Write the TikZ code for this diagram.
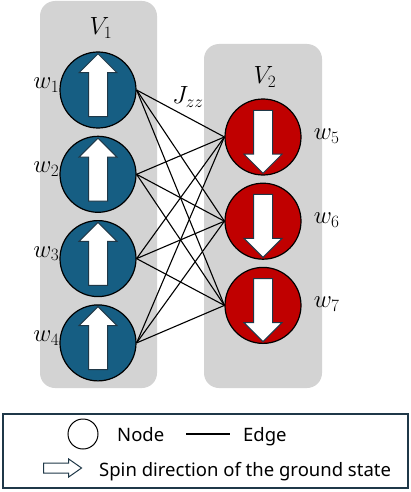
\documentclass[tikz,border=0pt]{standalone}
\usepackage{amsmath}
\usepackage{fontspec}
\setsansfont{Noto Sans}
\usepackage{tikz}
\usetikzlibrary{positioning,shapes.arrows}
\usepackage{xcolor}
\definecolor{SpinBlue}{RGB}{22,94,131}
\definecolor{SpinRed}{RGB}{192,0,0}
\definecolor{GroupGray}{RGB}{211,211,211}
\definecolor{ArrowLine}{RGB}{31,56,72}

\begin{document}
\begin{tikzpicture}[x=1pt, y=-1pt,
  spin/.style={draw, circle, line width=1.2pt, minimum size=76pt, inner sep=0pt},
  spinarrow/.style={shape=single arrow, draw=ArrowLine, fill=white, line width=1pt, inner sep=9pt, minimum height=63pt, single arrow head extend=9.5pt, single arrow tip angle=90},
  lbl/.style={inner sep=0pt, font=\fontsize{26}{30}\selectfont},
  legtext/.style={inner sep=0pt, anchor=base west, font=\sffamily\fontsize{18.5}{22}\selectfont}]
\useasboundingbox (0,0) rectangle (411,492);
% groups
\node[fill=GroupGray, rounded corners=15pt, minimum width=117pt, minimum height=387pt] (g1) at (98.5,194.5) {};
\node[fill=GroupGray, rounded corners=15pt, minimum width=118pt, minimum height=344pt] (g2) at (263,216) {};
\node[lbl] (v1) at (101,28) {$V_1$};
\node[lbl] (v2) at (265,77) {$V_2$};
% spins of V1
\node[spin, fill=SpinBlue] (w1) at (98,90) {};
\node[spin, fill=SpinBlue, below=7.1pt of w1] (w2) {};
\node[spin, fill=SpinBlue, below=7.1pt of w2] (w3) {};
\node[spin, fill=SpinBlue, below=7.1pt of w3] (w4) {};
% spins of V2
\node[spin, fill=SpinRed] (w5) at (263,137) {};
\node[spin, fill=SpinRed, below=7pt of w5] (w6) {};
\node[spin, fill=SpinRed, below=7pt of w6] (w7) {};
% edges
\foreach \a in {1,...,4}
  \foreach \b in {5,6,7}
    \draw[line width=1.1pt] (w\a.east) -- (w\b.west);
\node[lbl] (j) at (188,97) {$J_{zz}$};
% spin directions
\foreach \a in {1,...,4}
  \node[spinarrow, shape border rotate=90] (up\a) at (w\a) {};
\foreach \b in {5,6,7}
  \node[spinarrow, shape border rotate=270] (dn\b) at (w\b) {};
% labels
\foreach \a in {1,...,4}
  \node[lbl, anchor=east] (l\a) at ([yshift=5pt]w\a.west) {$w_{\a}$};
\foreach \b in {5,6,7}
  \node[lbl, anchor=west] (l\b) at ([xshift=12pt, yshift=1pt]w\b.east) {$w_{\b}$};
% legend
\node[draw=ArrowLine, line width=1.2pt, minimum width=405pt, minimum height=74pt] (leg) at (205.5,451) {};
\node[draw, circle, line width=1pt, minimum size=30pt, inner sep=0pt] (lc) at (83,434) {};
\node[legtext] (lnode) at (117,441) {Node};
\node[legtext] (ledge) at (243,441) {Edge};
\draw[line width=1.1pt] ([xshift=22pt, yshift=7pt]lnode.base east) -- ([xshift=-13pt, yshift=7pt]ledge.base west);
\node[shape=single arrow, draw=ArrowLine, fill=white, line width=1pt, inner sep=4.5pt, minimum height=38pt, single arrow head extend=4pt, single arrow tip angle=70] (la) at (59,468) {};
\node[legtext] (lspin) at (99,476) {Spin direction of the ground state};
\end{tikzpicture}
\end{document}
